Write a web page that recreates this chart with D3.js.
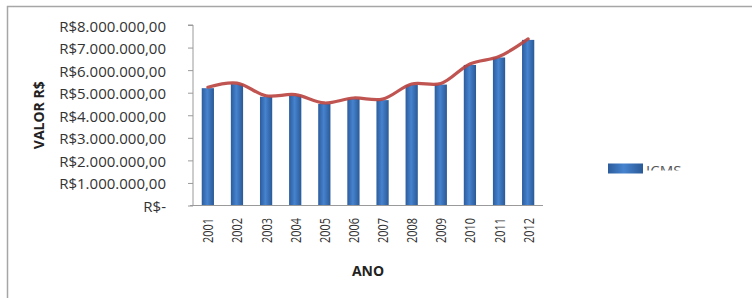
<!DOCTYPE html>
<html>
<head>
<meta charset="utf-8">
<script src="https://cdn.jsdelivr.net/npm/d3@7"></script>
<style>
  body { margin: 0; background: #fff; }
  text { font-family: "Open Sans", sans-serif; }
</style>
</head>
<body>
<svg id="chart" width="752" height="298"></svg>
<script>
// dados
var anos = ["2001","2002","2003","2004","2005","2006","2007","2008","2009","2010","2011","2012"];
var icms = [5200000, 5380000, 4820000, 4870000, 4500000, 4720000, 4670000, 5340000, 5360000, 6230000, 6560000, 7340000];
var yTicks = [0, 1000000, 2000000, 3000000, 4000000, 5000000, 6000000, 7000000, 8000000];
var serieNome = "ICMS";

var svg = d3.select("#chart");

// moldura
svg.append("path")
  .attr("d", "M7.5,298 L7.5,6.5 L752,6.5")
  .attr("fill", "none")
  .attr("stroke", "#a6a6a6")
  .attr("stroke-width", 1.5);

var x0 = 193, x1 = 543, yTop = 25, yBot = 205.5;

var x = d3.scaleBand().domain(anos).range([x0, x1]).paddingInner(0.58).paddingOuter(0.3);
var y = d3.scaleLinear().domain([0, 8000000]).range([yBot, yTop]);

function fmt(v) {
  if (v === 0) return "R$-";
  var s = d3.format(",.2f")(v); // 8,000,000.00
  s = s.replace(/,/g, "#").replace(".", ",").replace(/#/g, ".");
  return "R$" + s;
}

// gradiente das barras
var defs = svg.append("defs");
var grad = defs.append("linearGradient").attr("id", "barGrad")
  .attr("x1", "0%").attr("x2", "100%").attr("y1", "0%").attr("y2", "0%");
grad.append("stop").attr("offset", "0%").attr("stop-color", "#2c5c9c");
grad.append("stop").attr("offset", "45%").attr("stop-color", "#4683cf");
grad.append("stop").attr("offset", "100%").attr("stop-color", "#2a5996");

defs.append("clipPath").attr("id", "legClip")
  .append("rect").attr("x", 640).attr("y", 150).attr("width", 60).attr("height", 20.5);

// eixo y
var yAxis = d3.axisLeft(y).tickValues(yTicks).tickSize(5).tickPadding(22).tickFormat(fmt);
var gy = svg.append("g").attr("transform", "translate(" + x0 + ",0)").call(yAxis);
gy.select(".domain").attr("stroke", "#9a9a9a").attr("d", "M-5," + yTop + "H0V" + yBot);
gy.selectAll(".tick line").attr("stroke", "#9a9a9a");
gy.selectAll(".tick text").attr("fill", "#333").attr("dy", "0.4em").style("font-size", "15px");

// barras
svg.append("g").selectAll("rect")
  .data(icms)
  .enter().append("rect")
  .attr("x", function(d, i) { return x(anos[i]); })
  .attr("y", function(d) { return y(d); })
  .attr("width", x.bandwidth())
  .attr("height", function(d) { return yBot - y(d); })
  .attr("fill", "url(#barGrad)");

// eixo x
svg.append("line")
  .attr("x1", x0 - 3).attr("x2", x1)
  .attr("y1", yBot).attr("y2", yBot)
  .attr("stroke", "#9a9a9a");

svg.append("g").selectAll("text")
  .data(anos)
  .enter().append("text")
  .attr("transform", function(d) {
    return "translate(" + (x(d) + x.bandwidth() / 2 + 5.5) + "," + 218 + ") rotate(-90)";
  })
  .attr("text-anchor", "end")
  .attr("fill", "#333")
  .attr("textLength", 25)
  .attr("lengthAdjust", "spacingAndGlyphs")
  .style("font-size", "15px")
  .text(function(d) { return d; });

// linha suavizada
var line = d3.line()
  .x(function(d, i) { return x(anos[i]) + x.bandwidth() / 2; })
  .y(function(d) { return y(d) - 1; })
  .curve(d3.curveCatmullRom.alpha(0.5));

svg.append("path")
  .datum(icms)
  .attr("d", line)
  .attr("fill", "none")
  .attr("stroke", "#bb4542")
  .attr("stroke-width", 3.2)
  .attr("stroke-linecap", "round")
  .attr("opacity", 0.92);

// titulos
svg.append("text")
  .attr("transform", "translate(44," + ((yTop + yBot) / 2) + ") rotate(-90)")
  .attr("text-anchor", "middle")
  .attr("fill", "#222")
  .style("font-size", "14px")
  .style("font-weight", "bold")
  .text("VALOR R$");

svg.append("text")
  .attr("x", (x0 + x1) / 2)
  .attr("y", 276)
  .attr("text-anchor", "middle")
  .attr("fill", "#222")
  .style("font-size", "14px")
  .style("font-weight", "bold")
  .text("ANO");

// legenda
svg.append("rect")
  .attr("x", 608).attr("y", 163.5).attr("width", 35).attr("height", 10)
  .attr("fill", "url(#barGrad)");
svg.append("text")
  .attr("x", 646).attr("y", 175.5)
  .attr("fill", "#555")
  .attr("clip-path", "url(#legClip)")
  .style("font-size", "15px")
  .text(serieNome);
</script>
</body>
</html>
